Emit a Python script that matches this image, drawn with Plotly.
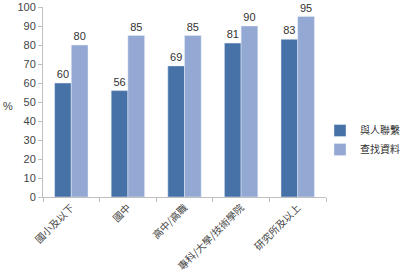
import plotly.graph_objects as go

categories = ["國小及以下", "國中", "高中/高職", "專科/大學/技術學院", "研究所及以上"]
contact = [60, 56, 69, 81, 83]
search = [80, 85, 85, 90, 95]
series_names = ["與人聯繫", "查找資料"]

fig = go.Figure()
fig.add_trace(go.Bar(x=categories, y=contact, name=series_names[0], marker_color="#4672a8",
                     text=contact, textposition="outside", cliponaxis=False,
                     textfont=dict(size=11, color="#333")))
fig.add_trace(go.Bar(x=categories, y=search, name=series_names[1], marker_color="#93a9d3",
                     text=search, textposition="outside", cliponaxis=False,
                     textfont=dict(size=11, color="#333")))

fig.update_layout(
    width=400, height=273,
    margin=dict(l=43, r=74, t=7, b=76, autoexpand=False),
    paper_bgcolor="white", plot_bgcolor="white",
    barmode="group", bargap=0.41, bargroupgap=0,
    font=dict(family="Liberation Sans, Noto Sans CJK TC", size=11, color="#444"),
    legend=dict(x=0.80, y=0.575, xref="container", yref="container",
                xanchor="left", yanchor="top", bgcolor="rgba(0,0,0,0)",
                font=dict(size=10, family="Noto Sans CJK TC", color="#333"),
                itemwidth=30, tracegroupgap=0),
    showlegend=True,
    annotations=[dict(text="%", x=-0.124, xref="paper", xanchor="center", y=0.48, yref="paper",
                      showarrow=False, font=dict(size=11, color="#444"))],
)
fig.update_xaxes(showline=True, linecolor="#bfbfbf", linewidth=1, tickson="boundaries",
                 ticks="outside", ticklen=4, tickcolor="#bfbfbf", tickangle=-45,
                 automargin=False,
                 tickfont=dict(size=10, family="Noto Sans CJK TC", color="#444"))
fig.update_yaxes(range=[0, 100], dtick=10, showline=True,
                 linecolor="#bfbfbf", linewidth=1, automargin=False,
                 ticks="outside", ticklen=4, tickcolor="#bfbfbf", showgrid=False,
                 zeroline=False, tickfont=dict(size=11, color="#444"))
fig.write_html("out.html")
